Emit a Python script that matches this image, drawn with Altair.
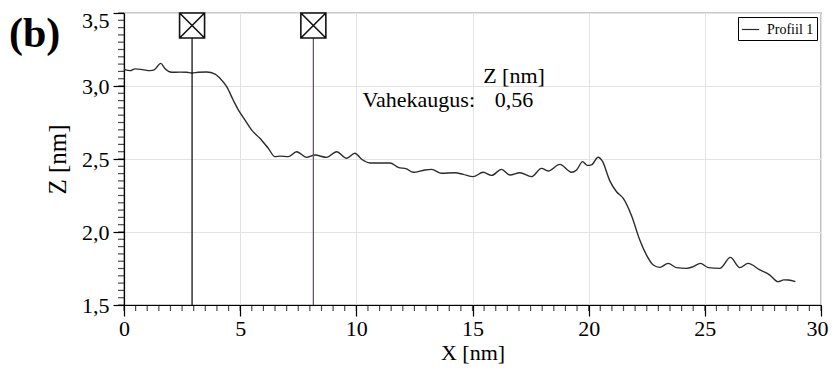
import altair as alt
import pandas as pd

# ---- data ----
profile_x = [0.0, 0.26, 0.47, 0.8, 1.12, 1.3, 1.58, 1.76, 2.05, 2.4, 2.7, 2.91, 3.2, 3.56,
             3.92, 4.13, 4.42, 4.70, 4.92, 5.21, 5.49, 5.85, 6.21, 6.50, 6.71, 7.07, 7.43,
             7.86, 8.22, 8.72, 9.15, 9.58, 9.94, 10.23, 10.59, 11.0, 11.45, 11.8, 12.16,
             12.45, 12.95, 13.24, 13.67, 14.24, 14.6, 15.03, 15.46, 15.82, 16.25, 16.61,
             17.04, 17.54, 17.97, 18.26, 18.76, 19.26, 19.48, 19.74, 19.94, 20.12, 20.41,
             20.59, 20.91, 21.2, 21.49, 21.85, 22.2, 22.49, 22.78, 23.06, 23.42, 23.78,
             24.21, 24.5, 24.81, 25.15, 25.65, 26.1, 26.51, 26.86, 27.37, 27.8, 28.15,
             28.4, 28.6, 28.9]
profile_z = [3.114, 3.105, 3.117, 3.112, 3.105, 3.11, 3.155, 3.12, 3.094, 3.095, 3.094,
             3.089, 3.094, 3.096, 3.082, 3.053, 2.995, 2.904, 2.836, 2.767, 2.699, 2.642,
             2.573, 2.516, 2.52, 2.516, 2.55, 2.511, 2.527, 2.511, 2.55, 2.505, 2.539,
             2.498, 2.473, 2.473, 2.473, 2.443, 2.432, 2.409, 2.425, 2.429, 2.402, 2.406,
             2.395, 2.379, 2.409, 2.388, 2.429, 2.39, 2.406, 2.379, 2.436, 2.418, 2.463,
             2.409, 2.425, 2.482, 2.456, 2.46, 2.512, 2.485, 2.35, 2.276, 2.23, 2.11,
             1.945, 1.842, 1.774, 1.758, 1.785, 1.756, 1.751, 1.763, 1.785, 1.756, 1.751,
             1.826, 1.756, 1.785, 1.74, 1.705, 1.66, 1.672, 1.671, 1.66]
series_name = "Profiil 1"
marker_x = [2.93, 8.15]
marker_color = ["#000000", "#5e4b6e"]
x_major_ticks = [0, 5, 10, 15, 20, 25, 30]
y_major_ticks = [1.5, 2.0, 2.5, 3.0, 3.5]
x_minor_ticks = [round(0.5 * i, 1) for i in range(61)]
y_minor_ticks = [round(1.5 + 0.05 * i, 2) for i in range(41)]
annot_title = "Z [nm]"
annot_label = "Vahekaugus:"
annot_value = "0,56"
panel_label = "(b)"

FONT = "Liberation Serif"
W, H = 697, 292

df = pd.DataFrame({"x": profile_x, "z": profile_z, "s": series_name})

xscale = alt.Scale(domain=[0, 30], nice=False, zero=False)
yscale = alt.Scale(domain=[1.5, 3.5], nice=False, zero=False)

x_axis = alt.Axis(
    values=x_major_ticks, title="X [nm]", format="d",
    labelOverlap=False, labelFlush=False,
    labelOffset={"condition": {"test": "datum.value >= 29.9", "value": -4}, "value": 0},
    tickSize=11, tickColor="black", tickWidth=1.2,
    domainColor="black", domainWidth=1.2,
    grid=True, gridColor="#e3e3e3",
    labelFont=FONT, labelFontSize=22, labelColor="black", labelPadding=2,
    titleFont=FONT, titleFontSize=22, titleFontWeight="normal", titleColor="black",
    titleY=47, titleBaseline="middle",
)
y_axis = alt.Axis(
    values=y_major_ticks, title="Z [nm]",
    labelExpr="replace(format(datum.value, '.1f'), '.', ',')",
    labelOverlap=False, labelFlush=False,
    labelOffset={"condition": {"test": "datum.value > 3.49", "value": 7}, "value": 0},
    tickSize=11, tickColor="black", tickWidth=1.2,
    domainColor="black", domainWidth=1.2,
    grid=True, gridColor="#e3e3e3",
    labelFont=FONT, labelFontSize=22, labelColor="black", labelPadding=4,
    titleFont=FONT, titleFontSize=25, titleFontWeight="normal", titleColor="black",
    titleX=-67, titleY=H / 2, titleBaseline="middle", titleAngle=-90,
)

line = alt.Chart(df).mark_line(strokeWidth=1.4, interpolate="monotone").encode(
    x=alt.X("x:Q", scale=xscale, axis=x_axis),
    y=alt.Y("z:Q", scale=yscale, axis=y_axis),
    color=alt.Color("s:N", scale=alt.Scale(range=["#2b2b2b"]),
                    legend=alt.Legend(title=None, orient="top-right", offset=4,
                                      fillColor="white", strokeColor="black",
                                      padding=3, symbolType="stroke", symbolSize=300,
                                      symbolStrokeWidth=1.2, labelFont=FONT,
                                      labelFontSize=14, labelColor="black",
                                      cornerRadius=0, labelOffset=7)),
)

# minor ticks, drawn from the tick arrays through the shared scales
xminor = alt.Chart(pd.DataFrame({"t": x_minor_ticks})).mark_tick(
    orient="vertical", size=6, thickness=1.2, color="black").encode(
    x=alt.X("t:Q", scale=xscale), y=alt.value(H + 3))
yminor = alt.Chart(pd.DataFrame({"t": y_minor_ticks})).mark_tick(
    orient="horizontal", size=6, thickness=1.2, color="black").encode(
    y=alt.Y("t:Q", scale=yscale), x=alt.value(-3))

layers = [line, xminor, yminor]
for mx, mc in zip(marker_x, marker_color):
    mdf = pd.DataFrame({"mx": [mx]})
    layers.append(alt.Chart(mdf).mark_rule(color=mc, strokeWidth=1.2).encode(
        x=alt.X("mx:Q", scale=xscale), y=alt.value(0), y2=alt.value(H)))

square_df = pd.DataFrame({"mx": marker_x})
layers.append(alt.Chart(square_df).mark_point(
    shape="M-1,-1H1V1H-1ZM-1,-1L1,1M-1,1L1,-1", size=625, filled=True,
    fill="white", stroke="#111111", strokeWidth=1.6, opacity=1).encode(
    x=alt.X("mx:Q", scale=xscale), y=alt.value(12.5)))

def text_layer(txt, x, y, size, align="center", weight="normal"):
    return alt.Chart(pd.DataFrame({"t": [txt]})).mark_text(
        font=FONT, fontSize=size, fontWeight=weight, align=align,
        baseline="middle", color="black").encode(
        text="t:N", x=alt.value(x), y=alt.value(y))

layers.append(text_layer(annot_title, 390, 63, 22))
layers.append(text_layer(annot_label, 351, 87, 22, align="right"))
layers.append(text_layer(annot_value, 390, 87, 22))
layers.append(text_layer(panel_label, -115, 21, 42, align="left", weight="bold"))

chart = alt.layer(*layers).properties(
    width=W, height=H,
    padding={"left": 116, "top": 5, "right": 8, "bottom": 59},
    autosize=alt.AutoSizeParams(type="none"),
).configure_view(stroke="#333333", strokeWidth=1.2)

chart.save("out.html", embed_options={"renderer": "svg", "actions": False})
